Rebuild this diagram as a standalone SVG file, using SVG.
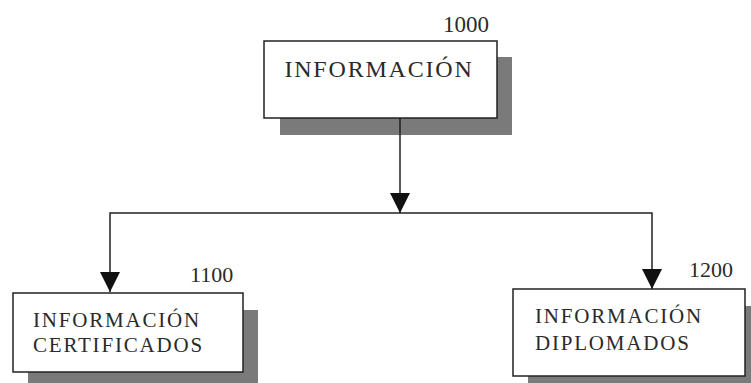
<svg xmlns="http://www.w3.org/2000/svg" width="751" height="383" viewBox="0 0 751 383">
<style>
.box{fill:#fff;stroke:#222;stroke-width:1.5}
.sh{fill:#7a7a7a}
.t{font-family:"Liberation Serif","Times New Roman",serif;fill:#2a2a2a;letter-spacing:1.8px}
.n{font-family:"Liberation Serif","Times New Roman",serif;fill:#2a2a2a}
.c{fill:none;stroke:#222;stroke-width:1.5}
</style>
<defs>
<marker id="ah" markerWidth="20" markerHeight="20" refX="20" refY="10" orient="auto" markerUnits="userSpaceOnUse" viewBox="0 0 20 20">
<path d="M0,0 L20,10 L0,20 Z" fill="#111"/>
</marker>
</defs>
<g id="n1000">
<rect class="sh" x="280" y="57" width="232" height="78"/>
<rect class="box" x="264" y="41" width="233" height="77"/>
<text class="t" x="379" y="77" font-size="24" text-anchor="middle">INFORMACIÓN</text>
<text class="n" x="443" y="32" font-size="23">1000</text>
</g>
<g id="n1100">
<rect class="sh" x="28" y="310" width="230" height="80"/>
<rect class="box" x="13" y="293" width="230" height="79"/>
<text class="t" x="33" y="327" font-size="21">INFORMACIÓN</text>
<text class="t" x="33" y="352" font-size="21">CERTIFICADOS</text>
<text class="n" x="190" y="282" font-size="22">1100</text>
</g>
<g id="n1200">
<rect class="sh" x="528" y="306" width="232" height="85"/>
<rect class="box" x="513" y="289" width="232" height="87"/>
<text class="t" x="535" y="323" font-size="21">INFORMACIÓN</text>
<text class="t" x="535" y="350" font-size="21">DIPLOMADOS</text>
<text class="n" x="689" y="277" font-size="22">1200</text>
</g>
<g id="connectors">
<path class="c" d="M400,118 V213" marker-end="url(#ah)"/>
<path class="c" d="M400,213 H110 V292" marker-end="url(#ah)"/>
<path class="c" d="M400,213 H652 V289" marker-end="url(#ah)"/>
</g>
</svg>
